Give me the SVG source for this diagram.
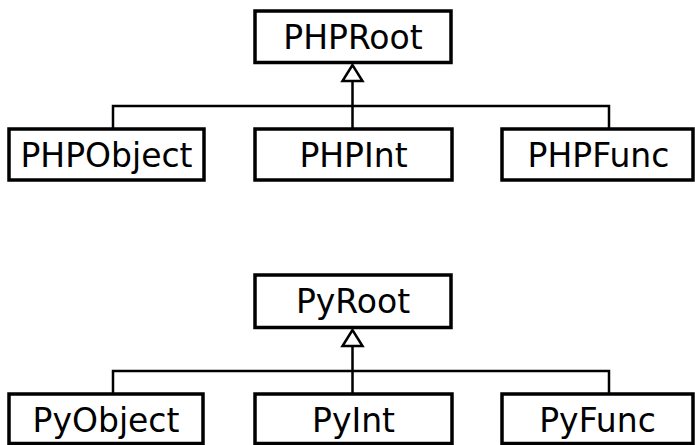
<svg xmlns="http://www.w3.org/2000/svg" width="695" height="445" viewBox="0 0 695 445">
<defs>
<style>
.box{fill:#fff;stroke:#000;stroke-width:3.5}
.lbl{font-family:"DejaVu Sans",sans-serif;font-size:33px;fill:#000;text-anchor:middle}
.ln{fill:none;stroke:#000;stroke-width:2.5}
.tri{fill:#fff;stroke:#000;stroke-width:2.5;stroke-linejoin:miter}
</style>
</defs>
<g id="connectors">
<path class="ln" d="M352.5,81 V129 M113,129 V106 H609 V129"/>
<polygon class="tri" points="352.5,65 342.5,81 362.5,81"/>
<path class="ln" d="M352.5,346 V394 M113,394 V371 H609 V394"/>
<polygon class="tri" points="352.5,330 342.5,346 362.5,346"/>
</g>
<g id="PHPRoot"><rect class="box" x="255" y="11" width="196" height="51.5"/><text class="lbl" x="353" y="48.5">PHPRoot</text></g>
<g id="PHPObject"><rect class="box" x="9" y="129" width="195" height="51"/><text class="lbl" x="106.5" y="166.7">PHPObject</text></g>
<g id="PHPInt"><rect class="box" x="255" y="129" width="197" height="51"/><text class="lbl" x="353.5" y="166.7">PHPInt</text></g>
<g id="PHPFunc"><rect class="box" x="502" y="129" width="191" height="51"/><text class="lbl" x="598.5" y="166.7">PHPFunc</text></g>
<g id="PyRoot"><rect class="box" x="255" y="275" width="196" height="52.5"/><text class="lbl" x="353" y="313">PyRoot</text></g>
<g id="PyObject"><rect class="box" x="9" y="394" width="194" height="49.5"/><text class="lbl" x="106" y="431.7">PyObject</text></g>
<g id="PyInt"><rect class="box" x="255" y="394" width="197" height="49.5"/><text class="lbl" x="353.5" y="431.7">PyInt</text></g>
<g id="PyFunc"><rect class="box" x="502" y="394" width="191" height="49.5"/><text class="lbl" x="597.5" y="431.7">PyFunc</text></g>
</svg>
